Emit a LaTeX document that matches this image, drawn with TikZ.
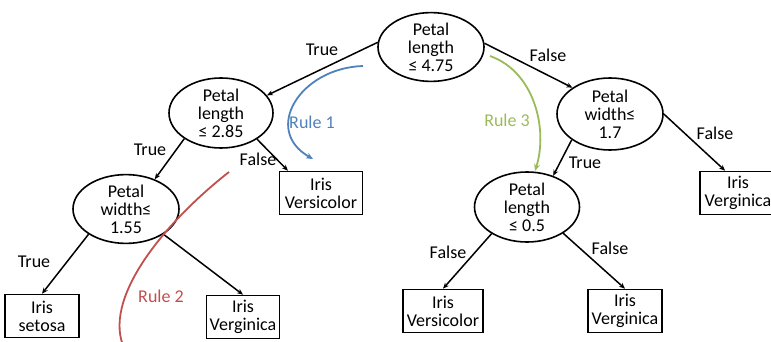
\documentclass[tikz,border=0pt]{standalone}
\usepackage{fontspec}
\setmainfont{Carlito}
\usetikzlibrary{shapes.geometric,arrows.meta}
\definecolor{ruleblue}{RGB}{79,129,189}
\definecolor{rulered}{RGB}{192,80,77}
\definecolor{rulegreen}{RGB}{155,187,89}
\tikzset{
  test/.style={ellipse,draw,line width=1.6pt,inner sep=0pt,align=center},
  leaf/.style={rectangle,draw,line width=1.6pt,inner sep=0pt,align=center,minimum height=43pt},
  edge/.style={line width=1.5pt,-{Stealth[length=6pt,width=5pt]}},
  lbl/.style={inner sep=0pt},
  rule/.style={line width=1.8pt}
}
\begin{document}
\begin{tikzpicture}[x=1pt,y=-1pt,font=\fontsize{18}{18}\selectfont]
 \useasboundingbox (0,0) rectangle (771,342);
 % tests
 \node[test,minimum width=106pt,minimum height=66pt] (root) at (431,47) {Petal\\length\\≤ 4.75};
 \node[test,minimum width=104pt,minimum height=70pt] (plA) at (221,113) {Petal\\length\\≤ 2.85};
 \node[test,minimum width=106pt,minimum height=68pt] (pwA) at (126,209) {Petal\\width≤\\1.55};
 \node[test,minimum width=106pt,minimum height=72pt] (pwB) at (610,114) {Petal\\width≤\\1.7};
 \node[test,minimum width=105pt,minimum height=70pt] (plB) at (527,207) {Petal\\length\\≤ 0.5};
 % leaves
 \node[leaf,minimum width=83pt] (versA) at (321,193) {Iris\\Versicolor};
 \node[leaf,minimum width=74pt] (setosa) at (42,316) {Iris\\setosa};
 \node[leaf,minimum width=73pt] (vergA) at (243,317) {Iris\\Verginica};
 \node[leaf,minimum width=76pt] (vergB) at (738,193) {Iris\\Verginica};
 \node[leaf,minimum width=80pt] (versB) at (443,311) {Iris\\Versicolor};
 \node[leaf,minimum width=74pt] (vergC) at (625,311) {Iris\\Verginica};
 % branches
 \draw[edge] (root.175) -- (plA.21);
 \draw[edge] (root.4) -- (pwB.145);
 \draw[edge] (plA.215) -- (pwA.46);
 \draw[edge] (plA.324) -- (versA.146);
 \draw[edge] (pwA.214) -- (setosa.north);
 \draw[edge] (pwA.326) -- (vergA.north);
 \draw[edge] (pwB.214) -- (plB.50);
 \draw[edge] (pwB.0) -- (vergB.120);
 \draw[edge] (plB.217) -- (versB.north);
 \draw[edge] (plB.324) -- (vergC.north);
 \node[lbl] (t1) at (322,50) {True};
 \node[lbl] (f1) at (548,55) {False};
 \node[lbl] (t2) at (150,150) {True};
 \node[lbl] (f2) at (258,159) {False};
 \node[lbl] (t3) at (34,262) {True};
 \node[lbl] (t4) at (585,163) {True};
 \node[lbl] (f3) at (715,133) {False};
 \node[lbl] (f4) at (448,252) {False};
 \node[lbl] (f5) at (610,248) {False};
 % rules
 \coordinate (r1a) at (363,66);
 \coordinate (r1b) at (313,159);
 \draw[rule,ruleblue,-{Stealth[length=7pt,width=6pt]}] (r1a) .. controls (300,68) and (262,130) .. (r1b);
 \node[lbl,text=ruleblue] (rule1) at (312,122) {Rule 1};
 \coordinate (r2a) at (229,172);
 \coordinate (r2b) at (125,350);
 \draw[rule,rulered] (r2a) .. controls (165,222) and (100,300) .. (r2b);
 \node[lbl,text=rulered] (rule2) at (161,296) {Rule 2};
 \coordinate (r3a) at (490,56);
 \coordinate (r3b) at (535,171);
 \draw[rule,rulegreen,-{Stealth[length=7pt,width=6pt]}] (r3a) .. controls (535,72) and (548,130) .. (r3b);
 \node[lbl,text=rulegreen] (rule3) at (507,120) {Rule 3};
\end{tikzpicture}
\end{document}
